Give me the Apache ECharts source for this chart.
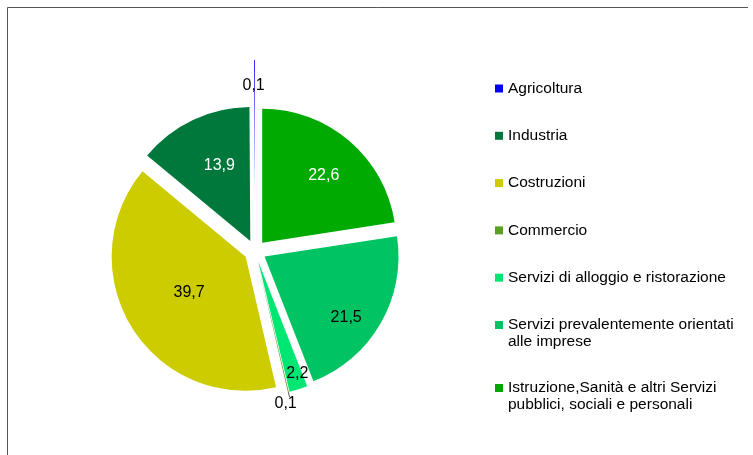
<!DOCTYPE html>
<html>
<head>
<meta charset="utf-8">
<script src="https://cdn.jsdelivr.net/npm/echarts@6/dist/echarts.min.js"></script>
<style>
  html, body { margin: 0; padding: 0; background: #fff; }
  #chart { width: 753px; height: 455px; }
</style>
</head>
<body>
<div id="chart"></div>
<script>
// sectors, in the order they go round the pie (counter-clockwise from 12 o'clock)
const categories = [
  'Agricoltura',
  'Industria',
  'Costruzioni',
  'Commercio',
  'Servizi di alloggio e ristorazione',
  'Servizi prevalentemente orientati\nalle imprese',
  'Istruzione,Sanità e altri Servizi\npubblici, sociali e personali'
]
const values = [0.1, 13.9, 39.7, 0.1, 2.2, 21.5, 22.6]

const colors = ['#0000ff', '#00783c', '#cccc00', '#58a021', '#00e673', '#00c364', '#00aa00']
const labelColors = ['#000', '#fff', '#000', '#000', '#000', '#000', '#fff']
// small nudges so the labels sit where the original has them
const labelNudge = [[-1, -38], [-1, -12], [3, -1], [0, 7], [18, 45], [21, 26], [16, -14]]

const font = '"Liberation Sans", Arial, sans-serif'
const fmt = v => String(v).replace('.', ',')

const chart = echarts.init(document.getElementById('chart'))

// main pie: every sector pulled out a little; Agricoltura is drawn by its own series
const mainData = categories.map((name, i) => {
  const item = {
    name: name,
    value: values[i],
    selected: true,
    itemStyle: { color: i === 0 ? 'rgba(0,0,0,0)' : colors[i] },
    label: { show: i !== 0, color: labelColors[i] }
  }
  if (i === 3) {
    // Commercio: tiny slice, label outside with a short leader line
    item.label = {
      show: true,
      position: 'outside',
      color: '#000',
      distanceToLabelLine: -15
    }
    item.labelLine = { show: true, length: 5, length2: 0, lineStyle: { color: '#555', width: 1 } }
  }
  return item
})

// Agricoltura pulled much further out than the rest
const restTotal = values.slice(1).reduce((a, b) => a + b, 0)
const agriData = [
  {
    name: categories[0],
    value: values[0],
    selected: true,
    itemStyle: { color: colors[0] },
    label: { show: true, color: labelColors[0] }
  },
  {
    name: '',
    value: restTotal,
    selected: false,
    itemStyle: { color: 'rgba(0,0,0,0)' },
    label: { show: false },
    labelLine: { show: false }
  }
]

const pieBase = {
  type: 'pie',
  center: [255, 251],
  radius: 134,
  startAngle: 90,
  clockwise: false,
  selectedMode: 'multiple',
  avoidLabelOverlap: false,
  silent: true,
  itemStyle: { borderWidth: 0 },
  emphasis: { disabled: true },
  label: {
    position: 'inside',
    fontSize: 16,
    fontFamily: font,
    formatter: p => fmt(p.value)
  },
  labelLine: { show: false }
}

const legendBase = {
  orient: 'vertical',
  left: 495,
  padding: 0,
  itemWidth: 8,
  textGap: 7,
  selectedMode: false,
  itemStyle: { borderWidth: 0 },
  textStyle: { fontSize: 15.5, lineHeight: 17, color: '#000', fontFamily: font }
}

const singleLine = categories.filter(c => c.indexOf('\n') < 0)
const twoLine = categories.filter(c => c.indexOf('\n') >= 0)

chart.setOption({
  animation: false,
  backgroundColor: '#fff',
  graphic: [
    {
      type: 'polyline',
      shape: { points: [[7.5, 455], [7.5, 7.5], [748, 7.5]] },
      style: { stroke: '#555', lineWidth: 1, fill: null }
    }
  ],
  legend: [
    Object.assign({}, legendBase, {
      top: 80,
      itemHeight: 8,
      itemGap: 30.3,
      icon: 'rect',
      data: singleLine.map(name => ({ name: name, itemStyle: { color: colors[categories.indexOf(name)] } }))
    }),
    // two-line entries: square sits beside the first line, as in the original
    Object.assign({}, legendBase, {
      top: 316.5,
      itemHeight: 25,
      itemGap: 29,
      icon: 'path://M0,0h8v8h-8zM0,25h0.01v0.01h-0.01z',
      data: twoLine.map(name => ({ name: name, itemStyle: { color: colors[categories.indexOf(name)] } }))
    })
  ],
  series: [
    Object.assign({}, pieBase, {
      name: 'agricoltura',
      selectedOffset: 57,
      data: agriData,
      labelLayout: p => p.dataIndex === 0 ? { dx: labelNudge[0][0], dy: labelNudge[0][1] } : {}
    }),
    Object.assign({}, pieBase, {
      name: 'settori',
      selectedOffset: 11,
      data: mainData,
      labelLayout: p => {
        const n = labelNudge[p.dataIndex]
        return n && p.dataIndex !== 0 ? { dx: n[0], dy: n[1] } : {}
      }
    })
  ]
})
</script>
</body>
</html>
